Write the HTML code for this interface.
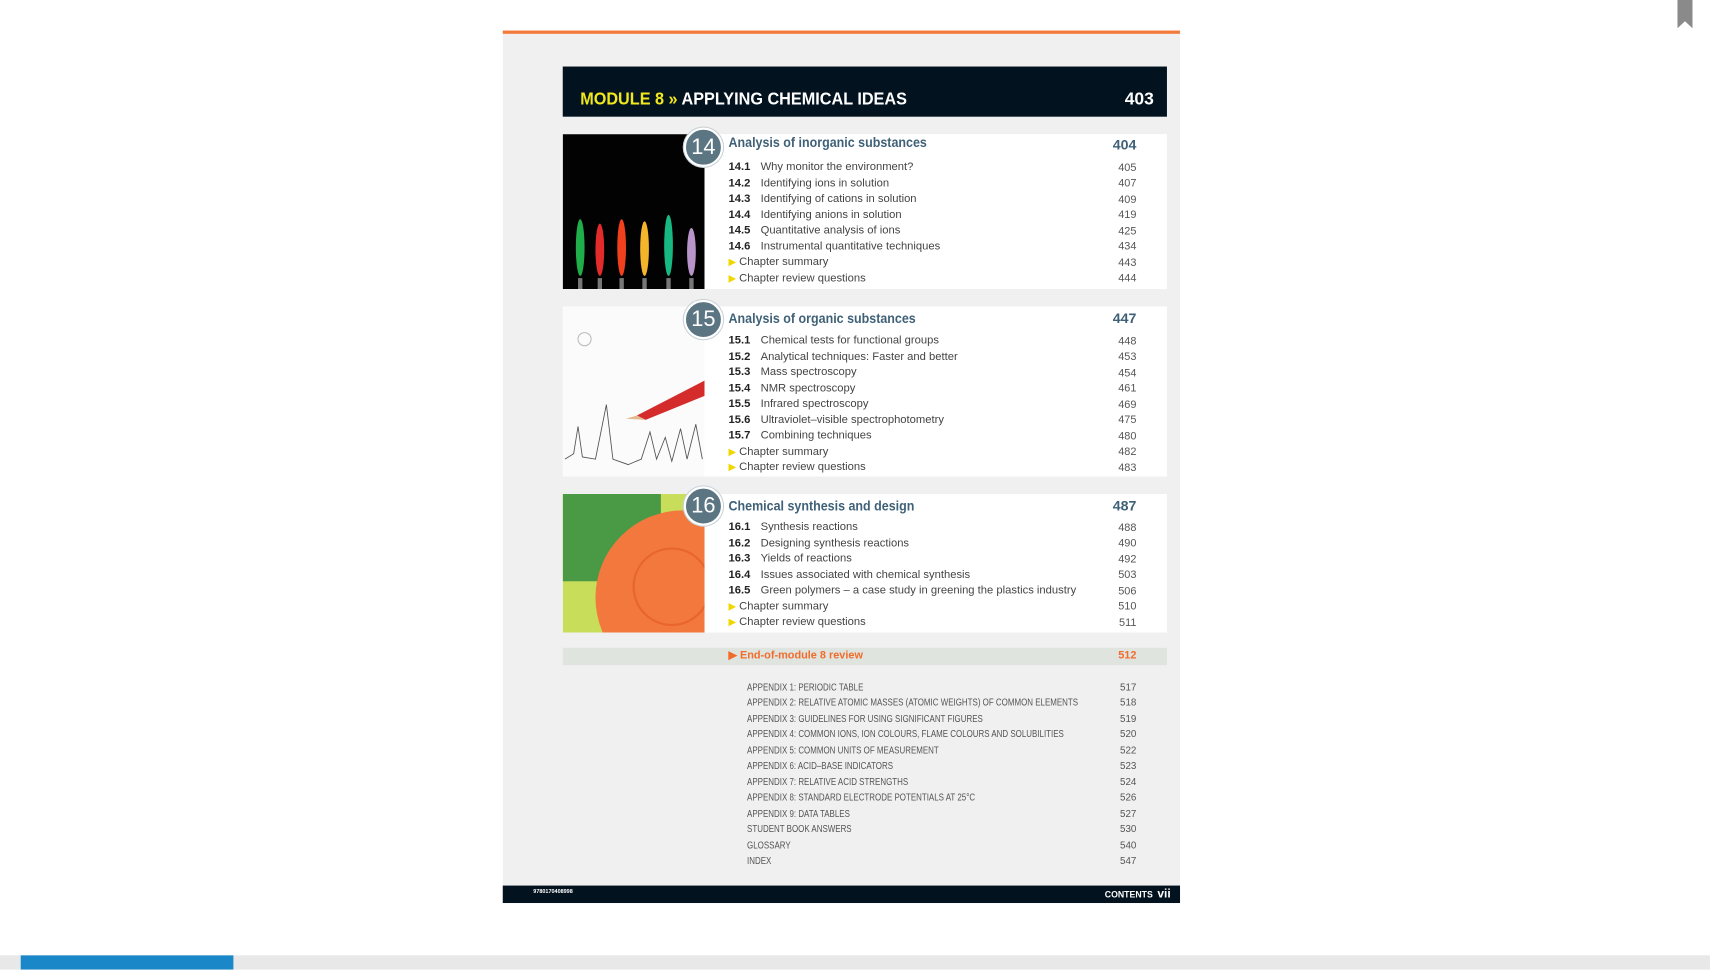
<!DOCTYPE html>
<html><head><meta charset="utf-8">
<style>
html,body{margin:0;padding:0;background:#fff;width:1710px;height:975px;overflow:hidden}
#s{position:absolute;left:0;top:0;width:1568px;height:894px;transform:scale(1.0906);transform-origin:0 0;font-family:"Liberation Sans Narrow","Liberation Sans",sans-serif}
.a{position:absolute}
.num{position:absolute;font-size:10px;color:#555;text-align:right;width:40px}
.row{position:absolute;font-size:10.5px;color:#444;white-space:nowrap;transform:scaleX(0.98);transform-origin:0 0}
.row b{color:#222;display:inline-block;width:30px;font-weight:bold}
.tri{color:#f2d600;font-size:9px;margin-right:3px}
.circ{position:absolute;width:32px;height:32px;border-radius:50%;background:#5b7583;border:2px solid #fff;color:#fff;font-size:20px;text-align:center;line-height:32px;box-shadow:0 0 0 1px #c8d2d8}
.title{position:absolute;left:668px;font-size:13px;color:#3f6178;font-weight:bold;white-space:nowrap;transform:scaleX(0.88);transform-origin:0 0}
.tpage{position:absolute;left:1002px;width:40px;text-align:right;font-size:13px;color:#3f6178;font-weight:bold}
.app{position:absolute;left:685px;font-size:9px;color:#555;white-space:nowrap;transform:scaleX(0.81);transform-origin:0 0}
</style></head><body>
<div id="s">
<div class="a" style="left:461px;top:28px;width:621px;height:800px;background:#f0f0f0"></div>
<div class="a" style="left:461px;top:28px;width:621px;height:3px;background:#f47a3c"></div>
<div class="a" style="left:516px;top:61px;width:554px;height:46px;background:#03121f"></div>
<div class="a" style="left:532px;top:83px;font-size:16px;font-weight:bold;color:#fff;white-space:nowrap;transform:scaleX(0.93);transform-origin:0 0"><span style="color:#f0e81c">MODULE 8 »</span> APPLYING CHEMICAL IDEAS</div>
<div class="a" style="left:1018px;top:83px;width:40px;text-align:right;font-size:16px;font-weight:bold;color:#fff">403</div>

<div class="a" style="left:516px;top:123px;width:554px;height:142px;background:#fff"></div>
<div class="a" style="left:516px;top:281px;width:554px;height:156px;background:#fff"></div>
<div class="a" style="left:516px;top:453px;width:554px;height:127px;background:#fff"></div>

<svg class="a" style="left:516px;top:123px" width="130" height="142">
<rect width="130" height="142" fill="#020202"/>
<g>
<ellipse cx="16" cy="104" rx="4" ry="26" fill="#1fae4a"/>
<ellipse cx="34" cy="106" rx="4" ry="24" fill="#e32b2b"/>
<ellipse cx="54" cy="104" rx="4" ry="26" fill="#f0401d"/>
<ellipse cx="75" cy="105" rx="4" ry="25" fill="#f5b52a"/>
<ellipse cx="97" cy="102" rx="4" ry="28" fill="#17b882"/>
<ellipse cx="118" cy="108" rx="4" ry="22" fill="#b994c8"/>
</g>
<g fill="#777"><rect x="14" y="132" width="4" height="10"/><rect x="32" y="132" width="4" height="10"/><rect x="52" y="132" width="4" height="10"/><rect x="73" y="132" width="4" height="10"/><rect x="95" y="132" width="4" height="10"/><rect x="116" y="132" width="4" height="10"/></g>
</svg>
<svg class="a" style="left:516px;top:281px" width="130" height="156">
<rect width="130" height="156" fill="#fbfbfb"/>
<polyline fill="none" stroke="#555" stroke-width="0.8" points="2,140 10,135 14,110 18,138 30,140 40,90 46,140 60,145 72,140 80,115 86,140 94,120 100,142 108,112 114,140 122,108 128,140"/>
<polygon points="68,100 130,68 130,82 76,104" fill="#d42b2b"/>
<polygon points="58,103 68,100 76,104" fill="#e2b98c"/>
<circle cx="20" cy="30" r="6" fill="none" stroke="#bbb"/>
</svg>
<svg class="a" style="left:516px;top:453px" width="130" height="127">
<rect width="130" height="127" fill="#c8dd5a"/>
<rect width="90" height="80" fill="#4a9a45"/>
<circle cx="110" cy="95" r="80" fill="#f2783e"/>
<circle cx="100" cy="85" r="35" fill="none" stroke="#e8652d" stroke-width="2"/>
</svg>

<div class="circ" style="left:627px;top:117px">14</div>
<div class="circ" style="left:627px;top:275px">15</div>
<div class="circ" style="left:627px;top:446px">16</div>

<div class="title" style="top:123px">Analysis of inorganic substances</div>
<div class="tpage" style="top:125px">404</div>
<div class="title" style="top:284px">Analysis of organic substances</div>
<div class="tpage" style="top:284px">447</div>
<div class="title" style="top:456px">Chemical synthesis and design</div>
<div class="tpage" style="top:456px">487</div>

<div id="rows"></div>

<div class="a" style="left:516px;top:594px;width:554px;height:16px;background:#dfe4df"></div>
<div class="a" style="left:668px;top:596px;font-size:10px;font-weight:bold;color:#f26b2a">▶ End-of-module 8 review</div>
<div class="a" style="left:1002px;top:596px;width:40px;text-align:right;font-size:10px;font-weight:bold;color:#f26b2a">512</div>

<div class="a" style="left:461px;top:812px;width:621px;height:16px;background:#03121f"></div>
<div class="a" style="left:489px;top:815px;font-size:5px;font-weight:bold;color:#fff">9780170408998</div>
<div class="a" style="left:1013px;top:814px;font-size:8px;font-weight:bold;color:#fff">CONTENTS <span style="font-size:11px;margin-left:2px">vii</span></div>

<div class="a" style="left:1538px;top:0;width:14px;height:26px;background:#8a8a8a;clip-path:polygon(0 0,100% 0,100% 100%,50% 75%,0 100%)"></div>
<div class="a" style="left:0;top:876px;width:1568px;height:13px;background:#e8e8e8"></div>
<div class="a" style="left:19px;top:876px;width:195px;height:13px;background:#1a87c9"></div>
</div>
<script>
const sections=[
 {top:152,items:[["14.1","Why monitor the environment?","405"],["14.2","Identifying ions in solution","407"],["14.3","Identifying of cations in solution","409"],["14.4","Identifying anions in solution","419"],["14.5","Quantitative analysis of ions","425"],["14.6","Instrumental quantitative techniques","434"],["","Chapter summary","443"],["","Chapter review questions","444"]]},
 {top:311,items:[["15.1","Chemical tests for functional groups","448"],["15.2","Analytical techniques: Faster and better","453"],["15.3","Mass spectroscopy","454"],["15.4","NMR spectroscopy","461"],["15.5","Infrared spectroscopy","469"],["15.6","Ultraviolet–visible spectrophotometry","475"],["15.7","Combining techniques","480"],["","Chapter summary","482"],["","Chapter review questions","483"]]},
 {top:482,items:[["16.1","Synthesis reactions","488"],["16.2","Designing synthesis reactions","490"],["16.3","Yields of reactions","492"],["16.4","Issues associated with chemical synthesis","503"],["16.5","Green polymers – a case study in greening the plastics industry","506"],["","Chapter summary","510"],["","Chapter review questions","511"]]}
];
const apps=[["APPENDIX 1: PERIODIC TABLE","517"],["APPENDIX 2: RELATIVE ATOMIC MASSES (ATOMIC WEIGHTS) OF COMMON ELEMENTS","518"],["APPENDIX 3: GUIDELINES FOR USING SIGNIFICANT FIGURES","519"],["APPENDIX 4: COMMON IONS, ION COLOURS, FLAME COLOURS AND SOLUBILITIES","520"],["APPENDIX 5: COMMON UNITS OF MEASUREMENT","522"],["APPENDIX 6: ACID–BASE INDICATORS","523"],["APPENDIX 7: RELATIVE ACID STRENGTHS","524"],["APPENDIX 8: STANDARD ELECTRODE POTENTIALS AT 25°C","526"],["APPENDIX 9: DATA TABLES","527"],["STUDENT BOOK ANSWERS","530"],["GLOSSARY","540"],["INDEX","547"]];
const c=document.getElementById('rows');
sections.forEach(sec=>{sec.items.forEach((it,i)=>{
 const y=sec.top+i*14.5-5;
 const r=document.createElement('div');r.className='row';r.style.left='668px';r.style.top=y+'px';
 
 
 r.innerHTML=it[0]?'<b>'+it[0]+'</b>'+it[1]:'<span class="tri">▶</span>'+it[1];
 c.appendChild(r);
 const n=document.createElement('div');n.className='num';n.style.left='1002px';n.style.top=(y+1.5)+'px';n.textContent=it[2];
 
 
 c.appendChild(n);
});});
apps.forEach((it,i)=>{
 const y=629+i*14.5-4.5;
 const r=document.createElement('div');r.className='app';r.style.top=y+'px';r.textContent=it[0];
 
 
 c.appendChild(r);
 const n=document.createElement('div');n.className='num';n.style.fontSize='9px';n.style.left='1002px';n.style.top=y+'px';n.textContent=it[1];
 
 
 c.appendChild(n);
});
</script>
</body></html>
